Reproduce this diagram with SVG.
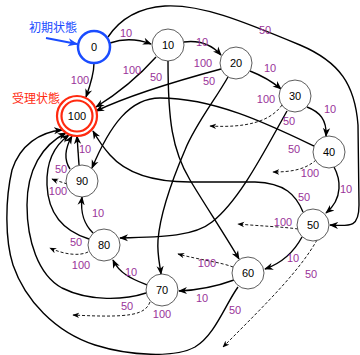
<svg xmlns="http://www.w3.org/2000/svg" width="360" height="355" viewBox="0 0 360 355">
<style>
.n circle{fill:#fff;stroke:#333;stroke-width:0.8}
.n text{font-family:"Liberation Sans",Arial,sans-serif;font-size:11px;fill:#000;text-anchor:middle}
.e{fill:none;stroke:#000;stroke-width:1.4}
.d{fill:none;stroke:#000;stroke-width:0.9;stroke-dasharray:3,2}
.l{font-family:"Liberation Sans",Arial,sans-serif;font-size:11px;fill:#993399;text-anchor:middle}
.cjk{font-family:"Liberation Sans","Noto Sans CJK JP",sans-serif;font-size:12px;text-anchor:middle}
</style>
<defs>
<marker id="a" viewBox="0 0 10 10" refX="9" refY="5" markerWidth="9" markerHeight="9" markerUnits="userSpaceOnUse" orient="auto"><path d="M0,1 L10,5 L0,9 L3,5 z" fill="#000"/></marker>
<marker id="ad" viewBox="0 0 10 10" refX="9" refY="5" markerWidth="7" markerHeight="7" markerUnits="userSpaceOnUse" orient="auto"><path d="M0,1 L10,5 L0,9 L3,5 z" fill="#000"/></marker>
<marker id="ab" viewBox="0 0 10 10" refX="9" refY="5" markerWidth="10" markerHeight="10" markerUnits="userSpaceOnUse" orient="auto"><path d="M0,1 L10,5 L0,9 L3,5 z" fill="#1a4cff"/></marker>
</defs>

<g id="edges">
<path class="e" d="M110,43 Q130,36 151,44" marker-end="url(#a)"/>
<path class="e" d="M94,63 C94,75 90,86 86,97" marker-end="url(#a)"/>
<path class="e" d="M108,37 C118,22 135,8 165,6 C200,4 240,20 300,45 C340,62 355,85 358,125 L359,205 C359,228 350,226 330,225" marker-end="url(#a)"/>
<path class="e" d="M184,42 C200,40 212,45 221,55" marker-end="url(#a)"/>
<path class="e" d="M156,57 Q130,86 96,107" marker-end="url(#a)"/>
<path class="e" d="M168,61 C168,120 172,150 190,180 C205,205 225,235 239,259" marker-end="url(#a)"/>
<path class="e" d="M250,71 Q268,78 281,89" marker-end="url(#a)"/>
<path class="e" d="M221,69 C180,80 130,95 96,111" marker-end="url(#a)"/>
<path class="e" d="M228,77 C215,100 195,125 185,150 C170,185 160,215 158,240 C157,255 160,265 161,274" marker-end="url(#a)"/>
<path class="e" d="M307,107 C320,112 327,120 326,136" marker-end="url(#a)"/>
<path class="d" d="M282,105 C270,122 245,128 210,126" marker-end="url(#ad)"/>
<path class="e" d="M287,111 C265,150 240,200 212,222 C195,236 165,237 120,238" marker-end="url(#a)"/>
<path class="e" d="M314,146 C270,125 215,98 160,98 C130,98 110,125 92,168" marker-end="url(#a)"/>
<path class="d" d="M316,160 C305,170 290,172 273,172" marker-end="url(#ad)"/>
<path class="e" d="M334,167 C340,178 344,198 326,213" marker-end="url(#a)"/>
<path class="e" d="M303,212 C296,195 285,183 255,182 L190,182 C150,182 125,172 110,155 C102,146 97,138 93,131" marker-end="url(#a)"/>
<path class="d" d="M298,229 C285,227 260,226 238,224" marker-end="url(#ad)"/>
<path class="d" d="M317,240 C300,270 270,300 223,347" marker-end="url(#ad)"/>
<path class="e" d="M302,237 C295,250 285,262 265,269" marker-end="url(#a)"/>
<path class="d" d="M233,267 C220,262 200,260 178,254" marker-end="url(#ad)"/>
<path class="e" d="M234,280 C215,287 200,290 179,291" marker-end="url(#a)"/>
<path class="e" d="M238,287 C225,305 215,335 195,347 C175,358 130,356 95,345 C55,332 25,300 13,265 C5,240 5,200 12,170 C20,145 40,132 62,130" marker-end="url(#a)"/>
<path class="e" d="M147,285 C135,280 120,275 113,260" marker-end="url(#a)"/>
<path class="d" d="M150,302 C145,315 130,318 73,315" marker-end="url(#ad)"/>
<path class="e" d="M146,293 C125,300 90,302 62,288 C38,275 27,240 27,205 C27,170 42,145 66,133" marker-end="url(#a)"/>
<path class="e" d="M93,233 C85,225 80,215 82,197" marker-end="url(#a)"/>
<path class="d" d="M88,252 C80,256 65,255 50,248" marker-end="url(#ad)"/>
<path class="e" d="M89,239 C60,230 48,210 47,185 C46,160 55,145 69,135" marker-end="url(#a)"/>
<path class="e" d="M79,165 L77,136" marker-end="url(#a)"/>
<path class="e" d="M70,169 C64,160 64,150 72,136" marker-end="url(#a)"/>
<path class="d" d="M67,184 C62,182 57,181 52,179" marker-end="url(#ad)"/>
<path d="M46,38 L77,44" fill="none" stroke="#1a4cff" stroke-width="2" marker-end="url(#ab)"/>
</g>

<g id="labels">
<text class="l" x="126" y="37">10</text>
<text class="l" x="80" y="84">100</text>
<text class="l" x="265" y="34">50</text>
<text class="l" x="202" y="46">10</text>
<text class="l" x="132" y="74">100</text>
<text class="l" x="156" y="81">50</text>
<text class="l" x="270" y="72">10</text>
<text class="l" x="203" y="67">100</text>
<text class="l" x="209" y="85">50</text>
<text class="l" x="330" y="113">10</text>
<text class="l" x="266" y="103">100</text>
<text class="l" x="289" y="125">50</text>
<text class="l" x="294" y="153">50</text>
<text class="l" x="310" y="177">100</text>
<text class="l" x="346" y="193">10</text>
<text class="l" x="304" y="201">50</text>
<text class="l" x="283" y="226">100</text>
<text class="l" x="293" y="262">10</text>
<text class="l" x="311" y="278">50</text>
<text class="l" x="207" y="267">100</text>
<text class="l" x="202" y="302">10</text>
<text class="l" x="235" y="314">50</text>
<text class="l" x="131" y="276">10</text>
<text class="l" x="127" y="310">50</text>
<text class="l" x="162" y="318">100</text>
<text class="l" x="98" y="217">10</text>
<text class="l" x="76" y="246">50</text>
<text class="l" x="81" y="269">100</text>
<text class="l" x="85" y="153">10</text>
<text class="l" x="61" y="173">50</text>
<text class="l" x="58" y="195">100</text>
<text class="cjk" x="53" y="32" fill="#1a4cff">初期状態</text>
<text class="cjk" x="36" y="103" fill="#ff2a10">受理状態</text>
</g>

<g id="n0" class="n"><circle cx="94" cy="47" r="16" style="stroke:#1a4cff;stroke-width:2.5"/><text x="94" y="51">0</text></g>
<g id="n10" class="n"><circle cx="168" cy="45" r="16"/><text x="168" y="49">10</text></g>
<g id="n20" class="n"><circle cx="236" cy="63" r="16"/><text x="236" y="67">20</text></g>
<g id="n30" class="n"><circle cx="295" cy="96" r="16"/><text x="295" y="100">30</text></g>
<g id="n40" class="n"><circle cx="329" cy="152" r="16"/><text x="329" y="156">40</text></g>
<g id="n50" class="n"><circle cx="313" cy="225" r="16"/><text x="313" y="229">50</text></g>
<g id="n60" class="n"><circle cx="248" cy="273" r="16"/><text x="248" y="277">60</text></g>
<g id="n70" class="n"><circle cx="162" cy="290" r="16"/><text x="162" y="294">70</text></g>
<g id="n80" class="n"><circle cx="104" cy="245" r="16"/><text x="104" y="249">80</text></g>
<g id="n90" class="n"><circle cx="82" cy="181" r="16"/><text x="82" y="185">90</text></g>
<g id="n100" class="n"><circle cx="77" cy="116" r="20" style="stroke:#ff2a10;stroke-width:2.2"/><circle cx="77" cy="116" r="15.5" style="stroke:#ff2a10;stroke-width:2.2"/><text x="77" y="120">100</text></g>
</svg>
